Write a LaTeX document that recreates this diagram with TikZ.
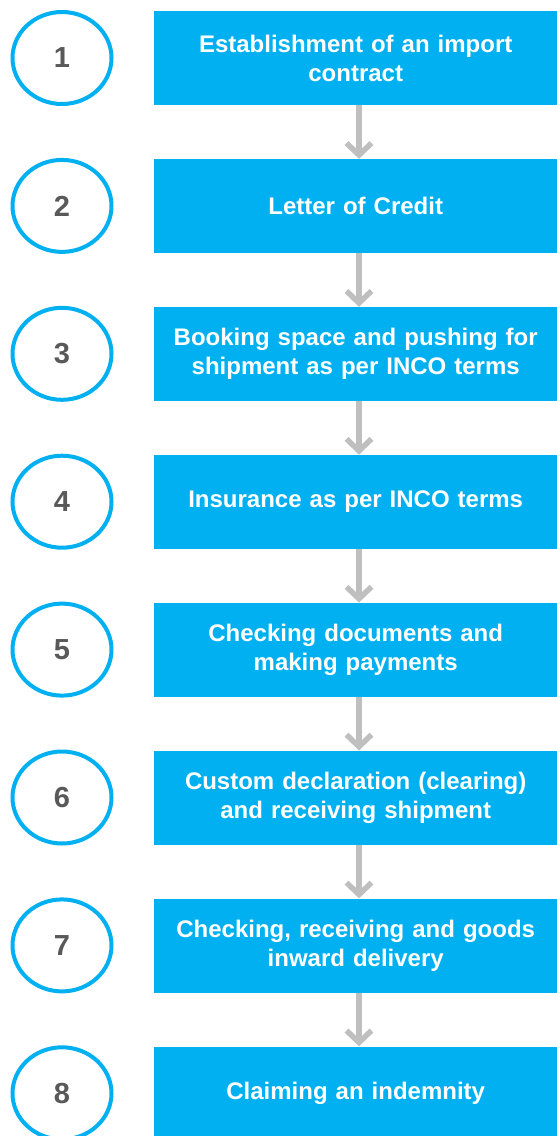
\documentclass[tikz,border=0pt]{standalone}
\usepackage{fontspec}
\setmainfont{Liberation Sans}
\usetikzlibrary{arrows.meta,shapes.geometric}
\definecolor{boxblue}{HTML}{00B0F0}
\definecolor{arrgray}{HTML}{BFBFBF}
\definecolor{numgray}{HTML}{595959}
\begin{document}
\begin{tikzpicture}[x=1pt,y=-1pt,
  stepbox/.style={fill=boxblue,draw=none,minimum width=403pt,minimum height=94pt,anchor=north west,inner sep=0pt,
    text=white,font=\fontsize{24}{29}\selectfont\bfseries,align=center,text width=400pt},
  numcirc/.style={ellipse,draw=boxblue,line width=4pt,fill=white,minimum width=99pt,minimum height=92pt,
    text=numgray,font=\fontsize{29}{32}\selectfont\bfseries,inner sep=0pt},
  flow/.style={draw=arrgray,line width=5.5pt,-{Straight Barb[length=12pt,width=25pt,line width=5.5pt]}}]
\useasboundingbox (0,0) rectangle (557,1136);
\foreach \i/\t in {1/{Establishment of an import\\contract},2/{Letter of Credit},3/{Booking space and pushing for\\shipment as per INCO terms},4/{Insurance as per INCO terms},5/{Checking documents and\\making payments},6/{Custom declaration (clearing)\\and receiving shipment},7/{Checking, receiving and goods\\inward delivery},8/{Claiming an indemnity}}{
  \pgfmathsetmacro{\yy}{11+(\i-1)*147.9}
  \node[stepbox] (b\i) at (154,\yy) {\t};
  \node[numcirc] (c\i) at (62,\yy+47) {\i};
}
\foreach \i [evaluate=\i as \j using int(\i+1)] in {1,...,7}{
  \draw[flow] (b\i.south -| 359,0) -- (b\j.north -| 359,0);
}
\end{tikzpicture}
\end{document}
